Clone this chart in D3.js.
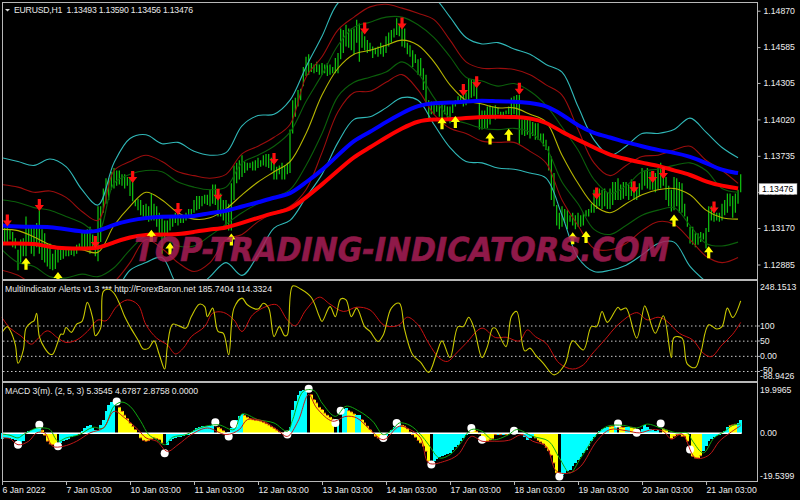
<!DOCTYPE html>
<html><head><meta charset="utf-8">
<script src="https://cdn.jsdelivr.net/npm/d3@7/dist/d3.min.js"></script>
<style>html,body{margin:0;padding:0;background:#000;overflow:hidden}svg{display:block}text{font-family:"Liberation Sans",sans-serif;fill:#e8e8e8}</style>
</head><body><svg id="c" width="800" height="500"></svg>
<script>
// All main-panel prices are stored as pips above this base price.
const priceBase = 1.12;
const titleMain = "EURUSD,H1\u00a0 1.13493 1.13590 1.13456 1.13476";
const titleInd = "MultiIndicator Alerts v1.3 *** http://ForexBaron.net 185.7404 114.3324";
const titleMacd = "MACD 3(m). (2, 5, 3) 5.3545 4.6787 2.8758 0.0000";
const watermark = "TOP-TRADING-INDICATORS.COM";
const lastPrice = 1.13476;
const priceTicks = [1.14870,1.14585,1.14305,1.14020,1.13735,1.13453,1.13170,1.12885];
const timeLabels = ["6 Jan 2022","7 Jan 03:00","10 Jan 03:00","11 Jan 03:00","12 Jan 03:00","13 Jan 03:00","14 Jan 03:00","17 Jan 03:00","18 Jan 03:00","19 Jan 03:00","20 Jan 03:00","21 Jan 03:00"];
const indLevels = [100,50,0,-50];

// Bar highs and lows (278 hourly bars)
const barHigh = [118,117,118,116,114,109,100,108,109,126,118,118,118,121,131,116,113,105,105,97,100,102,101,100,101,100,102,102,104,105,114,113,116,118,112,108,134,134,148,156,156,161,164,162,162,159,159,157,157,155,139,140,139,135,136,134,144,136,134,129,126,123,123,125,126,129,129,127,127,129,132,132,139,142,142,142,143,143,147,151,151,145,144,139,139,136,152,166,168,170,174,169,168,168,169,170,172,170,174,175,175,172,168,165,166,168,166,168,194,217,219,225,226,243,251,253,246,245,247,245,246,245,246,245,243,250,254,273,272,276,273,273,273,280,277,271,267,264,262,259,258,259,262,260,267,270,272,273,281,276,275,273,262,260,256,253,249,250,242,237,217,216,215,213,215,215,213,212,212,216,217,220,221,226,223,234,233,233,230,215,209,209,212,213,212,213,211,208,208,209,212,219,220,221,221,202,202,202,202,200,199,199,191,191,186,181,173,160,135,129,134,132,131,127,129,127,129,127,129,131,132,136,147,145,148,147,148,145,148,153,153,156,151,153,153,151,155,149,148,152,164,162,164,161,159,160,164,168,161,157,150,147,157,156,153,152,136,126,118,118,113,113,114,113,117,134,134,131,129,129,136,139,144,144,142,144,147,159];
const barLow = [105,106,105,108,102,101,84,90,95,95,105,97,95,102,97,92,90,87,85,84,85,90,92,93,95,95,96,95,97,100,101,100,101,97,101,95,91,106,129,136,139,147,148,150,151,150,148,150,142,138,134,131,127,126,126,122,123,123,118,113,97,108,113,115,118,121,119,121,121,123,126,127,129,131,132,134,136,135,134,136,135,126,126,123,118,115,115,139,152,155,157,160,162,164,162,162,164,165,166,165,164,162,155,155,159,155,155,159,160,191,204,212,217,228,236,237,239,238,239,237,237,238,236,237,238,238,238,249,254,259,258,256,253,262,247,258,256,254,255,250,253,251,253,251,254,259,262,266,268,267,259,258,253,251,243,246,237,236,225,215,203,206,206,208,204,202,206,203,199,207,212,215,215,212,213,217,219,220,215,194,194,195,195,198,204,202,206,204,204,206,206,204,206,204,183,190,189,190,187,189,186,186,185,181,178,162,139,134,119,116,118,121,116,122,119,116,118,118,119,126,126,129,129,132,134,132,134,132,132,135,139,139,139,140,142,139,142,139,139,142,147,150,148,147,147,145,147,148,150,139,134,130,131,134,129,129,126,118,105,104,102,104,106,108,101,114,123,122,123,122,123,127,129,134,125,129,136,145];

// Envelope lines, one reading every six bars
const bandStep = 6;
const outerUpper = [172,169,166,171,165,147,135,168,187,190,183,184,177,174,176,197,205,206,217,243,267,293,300,307,307,303,300,297,282,266,261,262,257,253,245,239,212,186,174,181,191,191,194,203,192,180,172];
const midUpper = [151,149,145,146,141,130,123,162,169,174,169,161,158,156,159,175,181,188,198,235,251,272,282,290,292,289,285,280,264,247,242,242,241,237,229,221,194,168,158,166,173,174,178,181,170,162,152];
const innerUpper = [139,137,133,131,126,121,114,152,159,162,161,153,149,147,149,168,174,181,192,216,237,260,274,278,282,282,276,266,251,235,232,228,230,224,213,196,178,155,144,150,161,163,166,168,162,148,145];
const centerLine = [116,115,110,104,101,100,98,119,134,145,139,129,124,125,132,143,153,161,169,191,221,242,253,256,260,264,260,247,229,217,214,211,211,206,200,174,152,135,129,136,143,147,148,143,131,125,124];
const innerLower = [100,90,87,79,78,81,79,86,100,111,110,103,103,111,120,129,136,141,147,166,191,220,231,235,239,247,238,219,203,199,195,194,195,192,180,153,136,116,112,119,127,131,133,119,105,103,106];
const midLower = [84,80,72,65,65,72,69,75,90,108,101,90,83,90,108,112,122,129,134,147,176,208,223,224,231,237,225,206,195,191,185,184,184,177,168,139,119,101,100,105,115,122,120,108,95,90,94];
const outerLower = [69,61,53,45,45,57,53,65,84,90,94,72,69,79,90,80,96,117,123,141,159,184,202,204,211,219,217,198,180,169,168,164,163,160,156,127,94,83,84,88,96,105,106,87,75,65,76];
const blueMA = [119,118,118,118,116,114,114,120,123,125,126,126,126,129,130,134,137,141,143,153,162,174,186,192,200,207,213,215,215,216,217,216,216,215,213,206,197,191,188,184,181,178,176,173,168,162,160];
const redMA = [105,105,105,102,101,101,101,106,110,112,112,112,114,116,117,121,125,129,131,141,151,162,173,180,188,195,201,202,202,203,204,204,204,203,200,192,186,180,174,171,168,166,162,159,153,150,148];

// Arrow signals: bar index and price level
const sellBars = [2,14,35,49,66,81,102,136,150,173,178,194,223,237,244,248,267];
const sellLevels = [123,135,106,157,132,143,171,273,277,225,231,226,144,149,157,160,133];
const buyBars = [9,21,56,63,86,165,170,183,190,214,219,252,265];
const buyLevels = [89,78,111,101,108,199,200,187,190,109,110,123,98];

// MultiIndicator lines: bar index and value
const fastBars = [0,2,3,5,6,8,9,11,12,13,14,16,18,19,21,22,23,24,26,28,30,32,34,35,37,38,40,42,44,46,48,51,53,55,57,59,61,62,64,67,69,71,74,76,77,79,81,83,85,87,90,92,96,98,100,102,104,106,107,109,112,116,119,120,123,125,127,129,131,133,136,138,141,143,146,149,151,154,157,160,163,165,168,171,173,175,177,180,182,184,185,189,191,193,196,198,200,203,207,211,214,218,221,223,225,227,231,232,234,238,241,242,245,248,251,252,255,257,260,262,265,268,270,272,274,277];
const fastValues = [79,98,87,38,-23,21,93,112,117,142,65,27,7,7,49,73,73,95,79,106,115,178,126,68,93,214,221,208,175,131,98,54,24,27,51,5,-42,32,106,98,93,131,172,164,131,159,82,76,5,159,192,170,156,175,159,65,98,68,71,232,222,194,131,115,164,131,189,186,131,159,98,82,49,71,159,175,87,5,-20,-53,10,51,-4,98,98,129,93,-4,32,93,93,32,131,148,18,27,5,-23,-61,-28,51,21,98,98,148,112,162,153,159,60,167,148,76,134,-4,62,60,-26,-37,10,104,90,98,159,128,183];
const slowBars = [0,3,7,11,13,17,21,24,28,32,36,39,43,47,51,54,58,62,65,68,71,76,79,83,87,90,94,99,103,107,110,114,119,123,128,133,138,143,146,149,152,156,160,164,167,170,174,180,185,189,194,197,200,204,209,214,218,221,226,231,238,242,246,249,254,259,263,266,270,274,277];
const slowValues = [128,93,68,40,54,84,60,46,54,82,120,117,164,186,170,104,60,38,8,27,65,98,142,145,120,82,137,164,170,120,101,153,195,172,148,162,153,104,98,104,129,104,43,-6,-17,7,43,93,62,63,51,87,65,43,-23,-42,-28,5,54,104,144,120,129,118,76,54,10,-1,38,73,112];

// MACD histogram: one value per bar, and colour state runs
const macdHist = [-2.6,-2.1,-2.1,-2.1,-2.7,-3,-5.2,-4.8,-3.6,-0.3,0.9,1.4,2,2.4,2.9,1.4,-0.9,-3.6,-4.8,-5.2,-5.6,-5.9,-4.4,-3.6,-2.9,-2.4,-1.8,-1.4,-0.6,-0.2,1.2,2.4,3.2,3.9,2.4,1.7,1.7,3.9,6.2,10,12.7,14.2,14.8,14.5,11.8,10,8.2,6.7,4.7,3.2,1.7,0.2,-2.1,-3.2,-3.6,-3.3,-2.6,-2.1,-2.4,-2.9,-4.4,-7.4,-5.2,-3.6,-2.6,-2.1,-1.8,-1.5,-1.2,-0.9,-0.6,0.6,1.7,2.4,3,3.3,3.5,3.5,3.5,3.6,3.6,2.7,2.1,1.2,0.2,0.5,2.4,4.7,6.2,7.7,8.9,8.2,7.3,6.7,6.2,5.9,5.8,5.5,5,4.4,3.8,3,2.3,1.5,0.6,0.2,0.2,1.2,2.7,10.8,14.8,17.6,19.1,19.7,20,20.1,17.6,15.3,13.8,11.8,10.8,9.2,8.2,7.3,6.4,6.2,6.7,7.3,11.2,11.5,10.3,9.7,8.8,8.5,8.2,6.2,4.7,3.2,1.7,0.2,-1.4,-2.1,-2.7,-3,-1.4,0.2,1.7,2.7,4.2,4.8,3.6,3.2,2.1,0.6,-0.6,-1.8,-3.2,-4.4,-5.9,-8.2,-12.7,-14.5,-12.7,-11.5,-10.9,-10.3,-10,-9.5,-8.9,-7.4,-6.4,-5.2,-3.6,-2.1,-0.9,0.2,1.5,1.7,0.9,-0.3,-3.3,-3.9,-3.6,-3,-2.4,-0.6,-0.6,-0.6,-0.6,-0.6,-0.3,1.2,1.7,1.2,0.2,-0.6,-1.8,-3,-2.1,-1.4,-2.1,-3.2,-3.9,-4.8,-6.4,-7.9,-10,-13.5,-18,-20.3,-19.1,-18.2,-17.3,-16.5,-15,-13.5,-12,-10.6,-8.9,-7.4,-5.6,-3.6,-1.8,-0.3,0.9,2.1,2.4,2.7,3,3.2,3.3,3.3,2.9,2.7,2.7,2.7,2.7,2.4,1.2,0.2,2.1,3.6,2.7,2.1,1.4,0.9,1.7,2.9,2,1.4,0.2,-2.4,-1.4,-0.6,-0.6,-1.4,-1.4,-3.6,-8.9,-10.5,-11.2,-11.2,-10.2,-8.2,-5.9,-3.6,-2.4,-1.8,-1.4,-0.9,-0.3,1.2,2.7,3.5,3.8,4.1,4.5,5.9];
const stateStarts = [0,15,21,22,43,44,61,62,80,81,85,91,107,115,116,125,126,127,128,130,133,135,144,150,161,162,176,186,187,188,189,190,195,196,200,209,210,228,230,231,232,234,236,240,247,248,258,259,263,273,276];
const stateNames = ["up","down","flat","up","flat","down","flat","up","flat","down","up","down","up","flat","down","flat","up","flat","up","down","up","down","up","down","flat","up","down","up","down","up","down","up","down","up","down","flat","up","down","up","flat","down","up","down","up","flat","down","flat","down","up","down","up"];
const macdGreenBars = [0,3,6,8,11,13,16,18,21,24,29,34,38,42,45,48,52,55,58,61,64,69,74,81,87,90,96,102,107,109,113,117,120,125,129,134,139,143,147,149,153,157,160,164,168,172,176,180,184,190,193,199,205,209,213,217,223,227,233,238,242,247,253,257,259,263,267,271,274,277];
const macdGreenValues = [-0.3,-0.9,-2.1,-0.6,1.4,2.4,2.4,1.7,-3.6,-2.1,-0.6,2.7,2.4,12.3,14.2,12.3,5.5,-0.6,-2.9,-5.2,-1.8,-0.6,2.4,3.9,1.7,8.8,6.2,4.7,0.9,6.2,19.1,19.4,13.8,7.7,12.3,10,5.5,-0.6,2.4,4.7,3.6,-0.6,-5.2,-11.2,-9.7,-4.4,1.7,0.9,-2.9,-0.6,1.7,-1.4,-3.6,-11.2,-18,-11.2,-0.6,3.2,3.6,2.4,4.2,2.4,0.2,0.2,-3.6,-8.9,-2.1,0.9,3.6,4.2];
const macdRedBars = [0,3,6,10,13,16,19,23,28,33,38,42,46,51,54,58,62,66,71,77,84,89,92,98,103,107,111,115,118,124,129,133,138,143,149,153,157,160,166,171,176,180,183,190,195,199,204,208,213,217,223,228,234,239,244,248,251,255,260,265,269,273,277];
const macdRedValues = [-2.1,-2.4,-5.2,-3.6,0.2,0.2,-5.9,-5.9,-3.6,0.2,2.4,10,7,1.7,-2.1,-3.6,-8.2,-5.2,-0.6,2.4,-0.6,1.7,6.2,5.5,1.7,-1.4,5.5,17.6,11.5,5.5,7.7,7,1.7,-2.9,3.2,1.7,-2.1,-13.5,-12.7,-9.7,-1.4,-3.6,-3.6,-3.2,-0.6,-3.6,-5.9,-17.3,-18,-15,-3.6,1.7,1.2,0.2,1.7,0.9,-2.6,-0.3,-11.2,-10,-3.6,0.2,3.5];
const dotBars = [6,14,21,43,61,80,85,87,107,115,125,127,143,148,161,176,180,192,209,231,238,247,258];
const dotValues = [-5.2,3.9,-5.9,14.5,-9.1,5,-1.4,4.2,-0.6,20.3,4.7,10.3,-2.1,4.7,-14.2,2.4,-2.9,1.2,-19.6,4.4,0.3,4.4,-7.4];

const svg = d3.select("#c");
const toPrice = p => priceBase + p/1e4;
const x = d3.scaleLinear().domain([0,277]).range([2,740.7]);
const yP = d3.scaleLinear().domain([1.14870,1.12885]).range([10.7,264.5]);
const yI = d3.scaleLinear().domain([100,-50]).range([326,371.5]);
const yM = d3.scaleLinear().domain([20,-20]).range([389.3,477.3]);
const frame = "#b8b8b8";

svg.append("rect").attr("width",800).attr("height",500).attr("fill","#000");
const defs = svg.append("defs");
defs.append("clipPath").attr("id","mainClip").append("rect").attr("x",3).attr("y",3).attr("width",754).attr("height",276);

const main = svg.append("g").attr("clip-path","url(#mainClip)");
// bars
main.append("g").selectAll("line").data(barHigh).join("line")
  .attr("x1",(d,i)=>x(i)).attr("x2",(d,i)=>x(i))
  .attr("y1",d=>yP(toPrice(d))).attr("y2",(d,i)=>yP(toPrice(barLow[i])))
  .attr("stroke","#10c810").attr("stroke-width",1.2);
// thin lines
const bandLine = d3.line().x((d,i)=>x(i*bandStep)).y(d=>yP(toPrice(d))).curve(d3.curveCatmullRom.alpha(0.5));
const maLine = d3.line().x((d,i)=>x(i*bandStep)).y(d=>yP(toPrice(d))).curve(d3.curveBasis);
[[outerUpper,"#30b8b8"],[outerLower,"#30b8b8"],[midUpper,"#9a0d0d"],[midLower,"#9a0d0d"],[innerUpper,"#0b5f0b"],[innerLower,"#0b5f0b"],[centerLine,"#b5b500"]]
 .forEach(([s,c])=>main.append("path").attr("d",bandLine(s)).attr("fill","none").attr("stroke",c).attr("stroke-width",1.1));
main.append("path").attr("d",maLine(redMA)).attr("fill","none").attr("stroke","#ff0000").attr("stroke-width",4);
main.append("path").attr("d",maLine(blueMA)).attr("fill","none").attr("stroke","#0000ff").attr("stroke-width",4);
// arrows
const downArrow="M-1.6,-6L1.6,-6L1.6,0L4.6,0L0,6L-4.6,0L-1.6,0Z", upArrow="M-1.6,6L1.6,6L1.6,0L4.6,0L0,-6L-4.6,0L-1.6,0Z";
main.append("g").selectAll("path").data(sellBars).join("path").attr("d",downArrow).attr("fill","#ff1010")
  .attr("transform",(d,i)=>`translate(${x(d)},${yP(toPrice(sellLevels[i]))})`);
main.append("g").selectAll("path").data(buyBars).join("path").attr("d",upArrow).attr("fill","#ffff00")
  .attr("transform",(d,i)=>`translate(${x(d)},${yP(toPrice(buyLevels[i]))})`);

// indicator panel
const ind = svg.append("g");
ind.selectAll("line").data(indLevels).join("line").attr("x1",3).attr("x2",757)
  .attr("y1",d=>yI(d)).attr("y2",d=>yI(d)).attr("stroke","#c8c8c8").attr("stroke-dasharray","1.5 2.5");
const lineOf=(xs,sy)=>d3.line().x((d,i)=>x(xs[i])).y(d=>sy(d)).curve(d3.curveCatmullRom.alpha(0.5));
ind.append("path").attr("d",lineOf(slowBars,yI)(slowValues)).attr("fill","none").attr("stroke","#c81010").attr("stroke-width",1);
ind.append("path").attr("d",lineOf(fastBars,yI)(fastValues)).attr("fill","none").attr("stroke","#c8c800").attr("stroke-width",1.1);

// MACD panel
const macd = svg.append("g");
const stateOf = i => stateNames[d3.bisectRight(stateStarts,i)-1];
const stateColor = {up:"#00ffff",down:"#ffff00",flat:"#000000"};
const bw = x(1)-x(0);
const histRows = macdHist.map((v,i)=>({i,v,state:stateOf(i)}));
macd.append("g").attr("shape-rendering","crispEdges").selectAll("rect").data(histRows).join("rect")
  .attr("x",d=>x(d.i)-bw/2).attr("width",bw+0.4)
  .attr("y",d=>Math.min(yM(d.v),yM(0))).attr("height",d=>Math.abs(yM(d.v)-yM(0)))
  .attr("fill",d=>stateColor[d.state]);
macd.append("g").selectAll("rect").data(histRows.filter(d=>d.state==="down")).join("rect")
  .attr("x",d=>x(d.i)-bw/2).attr("width",bw)
  .attr("y",d=>yM(d.v)-0.5).attr("height",1).attr("fill","#d85010");
macd.append("line").attr("x1",3).attr("x2",x(277)+1).attr("y1",yM(0)).attr("y2",yM(0)).attr("stroke","#fff").attr("stroke-width",1.4);
macd.append("g").selectAll("circle").data(dotBars).join("circle")
  .attr("cx",d=>x(d)).attr("cy",(d,i)=>yM(dotValues[i])).attr("r",4).attr("fill","#fff");
macd.append("path").attr("d",lineOf(macdGreenBars,yM)(macdGreenValues)).attr("fill","none").attr("stroke","#10a810").attr("stroke-width",1);
macd.append("path").attr("d",lineOf(macdRedBars,yM)(macdRedValues)).attr("fill","none").attr("stroke","#c01818").attr("stroke-width",1);

// watermark
svg.append("text").text(watermark).attr("transform","translate(132,261) skewX(-11)").attr("textLength",535).attr("lengthAdjust","spacingAndGlyphs")
  .style("font-family","'DejaVu Sans'").style("font-weight","bold").style("font-size","33px")
  .style("fill","#a81e56").style("stroke","#a81e56").style("stroke-width",0.6).style("opacity",0.85);

// frame
const fr = svg.append("g").attr("stroke",frame).attr("fill","none");
fr.append("rect").attr("x",2.5).attr("y",2.5).attr("width",755).attr("height",479);
[280,382].forEach(y=>fr.append("line").attr("x1",2).attr("x2",758).attr("y1",y).attr("y2",y).attr("stroke-width",2));

// axes
const fs = 8.7;
const ax = svg.append("g").attr("transform","translate(757.5,0)").call(d3.axisRight(yP).tickValues(priceTicks).tickFormat(d3.format(".5f")).tickSize(3).tickPadding(3));
const tx = svg.append("g").attr("transform","translate(0,482)").call(d3.axisBottom(x).tickValues(timeLabels.map((d,i)=>i*24)).tickFormat((d,i)=>timeLabels[i]).tickSize(3).tickPadding(2));
tx.selectAll("text").attr("text-anchor","start").attr("dx",0);
[ax,tx].forEach(a=>{a.select(".domain").remove();a.selectAll("line").attr("stroke",frame);a.selectAll("text").style("font-size",fs+"px").style("fill","#eee").style("font-family","'Liberation Sans'");});
// price tag
svg.append("rect").attr("x",759).attr("y",yP(lastPrice)-5.5).attr("width",38).attr("height",11).attr("fill","#fff").attr("stroke","#888").attr("stroke-width",.5);
svg.append("text").text(d3.format(".5f")(lastPrice)).attr("x",762).attr("y",yP(lastPrice)+3).style("font-size",fs+"px").style("fill","#000");

// indicator axis labels
const sideLabels=[["248.1513",290],["100",yI(100)+3],["50",yI(50)+3],["0.00",yI(0)+3],["-50",yI(-50)+1],["-88.9426",379],["19.9965",393],["0.00",yM(0)+3],["-19.5399",479]];
svg.append("g").selectAll("text").data(sideLabels).join("text").text(d=>d[0]).attr("x",760).attr("y",d=>d[1]).style("font-size",fs+"px").style("fill","#eee");
[326,341,356.4,371.5].forEach(y=>svg.append("line").attr("x1",757.5).attr("x2",760).attr("y1",y).attr("y2",y).attr("stroke",frame));

// titles
svg.append("path").attr("d","M5,9L10,9L7.5,11.5Z").attr("fill","#ddd");
svg.append("text").text(titleMain).attr("x",14).attr("y",13).attr("textLength",179).style("font-size",fs+"px");
svg.append("text").text(titleInd).attr("x",5).attr("y",292).attr("textLength",267).style("font-size",fs+"px");
svg.append("text").text(titleMacd).attr("x",5).attr("y",394).attr("textLength",193).style("font-size",fs+"px");
</script></body></html>
